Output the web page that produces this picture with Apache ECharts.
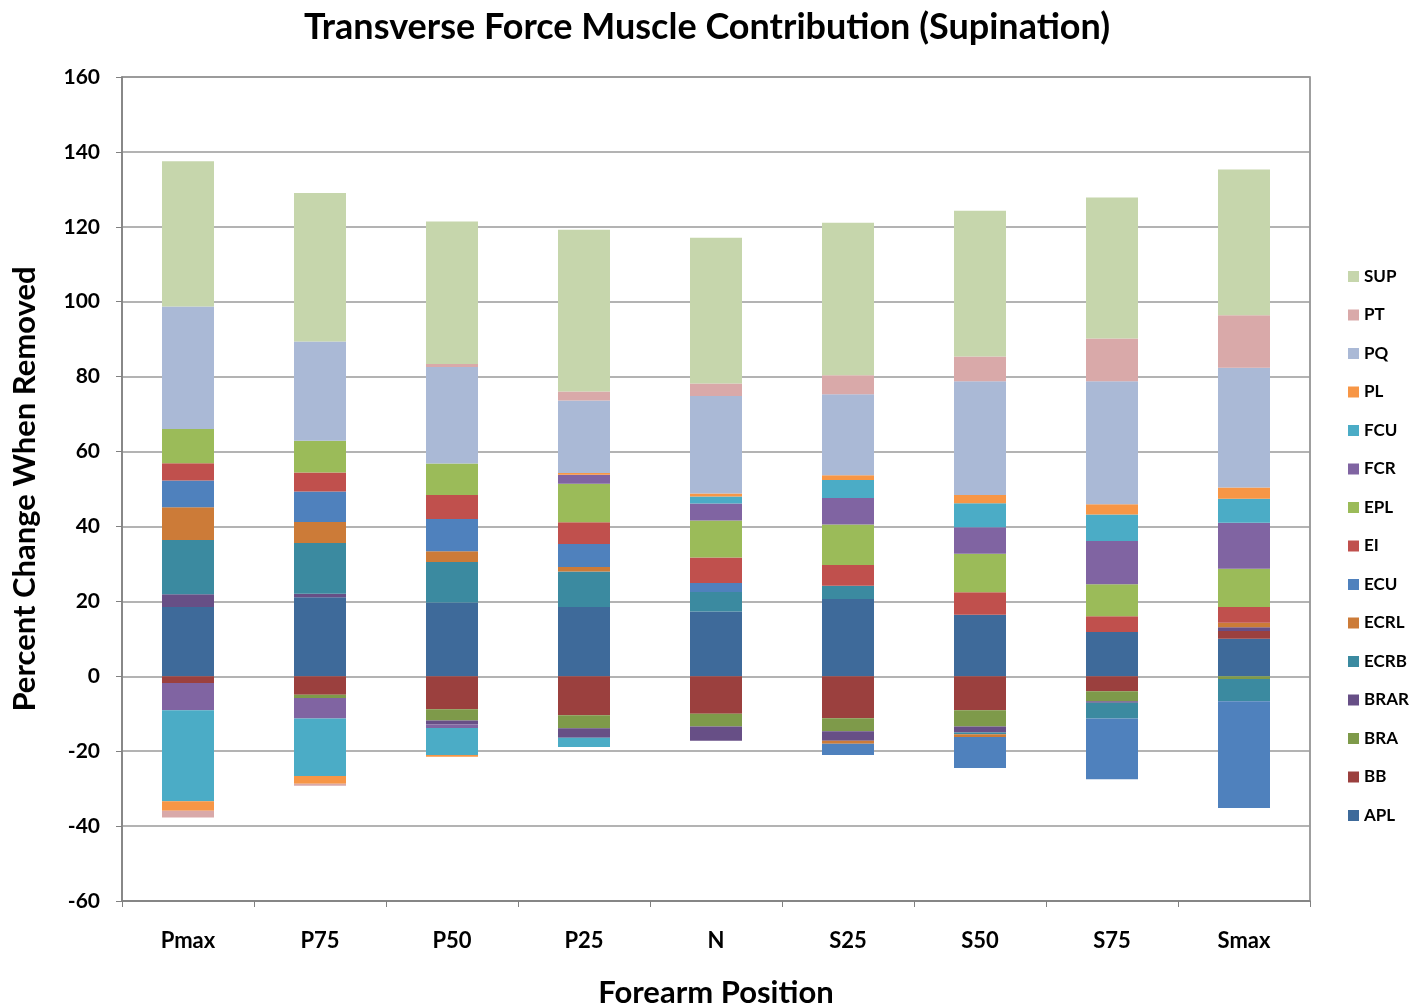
<!DOCTYPE html>
<html>
<head>
<meta charset="utf-8">
<script src="https://cdn.jsdelivr.net/npm/echarts@6/dist/echarts.min.js"></script>
<style>
  html, body { margin: 0; padding: 0; background: #fff; }
  #chart { width: 1414px; height: 1008px; }
</style>
</head>
<body>
<div id="chart"></div>
<script>
// forearm positions
const categories = ['Pmax', 'P75', 'P50', 'P25', 'N', 'S25', 'S50', 'S75', 'Smax']

// percent change when each muscle is removed
const APL = [18.5, 21.1, 19.7, 18.5, 17.3, 20.6, 16.4, 11.8, 10.0]
const BB = [-1.8, -4.9, -8.8, -10.4, -10.0, -11.2, -9.1, -4.0, 2.1]
const BRA = [0, -0.9, -3.0, -3.5, -3.4, -3.5, -4.3, -2.7, -0.7]
const BRAR = [3.4, 0.9, -1.1, -2.5, -3.8, -2.5, -1.6, -0.4, 1.0]
const ECRB = [14.5, 13.6, 10.8, 9.5, 5.2, 3.6, -0.5, -4.2, -6.0]
const ECRL = [8.7, 5.6, 2.9, 1.2, 0, -0.8, -0.7, 0, 1.2]
const ECU = [7.2, 8.1, 8.6, 6.1, 2.4, -3.0, -8.3, -16.2, -28.5]
const EI = [4.6, 5.1, 6.4, 5.8, 6.8, 5.5, 6.0, 4.2, 4.2]
const EPL = [9.1, 8.5, 8.4, 10.3, 9.9, 10.8, 10.3, 8.6, 10.2]
const FCR = [-7.3, -5.5, -0.9, 2.4, 4.5, 7.1, 7.1, 11.5, 12.3]
const FCU = [-24.3, -15.3, -7.2, -2.5, 1.9, 4.8, 6.4, 7.1, 6.4]
const PL = [-2.5, -2.1, -0.5, 0.5, 0.8, 1.3, 2.2, 2.7, 3.0]
const PQ = [32.7, 26.5, 25.8, 19.3, 26.0, 21.6, 30.4, 32.9, 32.0]
const PT = [-1.8, -0.5, 0.8, 2.4, 3.4, 5.1, 6.6, 11.4, 14.0]
const SUP = [38.8, 39.6, 38.0, 43.2, 38.9, 40.7, 38.9, 37.6, 38.9]

const muscleNames = ['APL', 'BB', 'BRA', 'BRAR', 'ECRB', 'ECRL', 'ECU', 'EI', 'EPL', 'FCR', 'FCU', 'PL', 'PQ', 'PT', 'SUP']
const muscleData = [APL, BB, BRA, BRAR, ECRB, ECRL, ECU, EI, EPL, FCR, FCU, PL, PQ, PT, SUP]
const colorList = ['#3E6A9A', '#9B403E', '#7E9A4A', '#674F86', '#3B8AA0', '#CC7B38', '#4F81BD',
  '#C0504D', '#9BBB59', '#8064A2', '#4BACC6', '#F79646', '#AAB9D6', '#D9A9A9', '#C6D6AC']

const fontFamily = 'Lato, "Open Sans", sans-serif'
const gridColor = '#9A9A9A'

const chart = echarts.init(document.getElementById('chart'))

const series = muscleNames.map((name, i) => ({
  name,
  type: 'bar',
  stack: 'total',
  barWidth: 52,
  data: muscleData[i],
  itemStyle: {
    color: colorList[i]
  }
}))

chart.setOption({
  animation: false,
  color: colorList,
  title: {
    text: 'Transverse Force Muscle Contribution (Supination)',
    left: 'center',
    top: 4,
    textStyle: {
      fontFamily,
      fontSize: 36,
      fontWeight: 'bold',
      color: '#000'
    }
  },
  legend: {
    orient: 'vertical',
    left: 1343,
    top: 263,
    itemWidth: 11,
    itemHeight: 11,
    itemGap: 21.5,
    icon: 'rect',
    data: muscleNames.slice().reverse(),
    textStyle: {
      fontFamily,
      fontSize: 17,
      fontWeight: 'bold',
      color: '#000'
    }
  },
  grid: {
    left: 122,
    right: 104,
    top: 77,
    bottom: 107,
    outerBoundsMode: 'none',
    show: true,
    borderColor: '#808080',
    borderWidth: 1.5
  },
  xAxis: {
    type: 'category',
    data: categories,
    name: 'Forearm Position',
    nameLocation: 'middle',
    nameGap: 76,
    nameTextStyle: {
      fontFamily,
      fontSize: 31,
      fontWeight: 'bold',
      color: '#000'
    },
    axisLine: {
      onZero: false,
      lineStyle: { color: '#808080', width: 1.5 }
    },
    axisTick: {
      show: true,
      length: 6,
      lineStyle: { color: '#808080' }
    },
    axisLabel: {
      margin: 29,
      fontFamily,
      fontSize: 22,
      fontWeight: 'bold',
      color: '#000'
    }
  },
  yAxis: {
    type: 'value',
    min: -60,
    max: 160,
    interval: 20,
    name: 'Percent Change When Removed',
    nameLocation: 'middle',
    nameGap: 82,
    nameTextStyle: {
      fontFamily,
      fontSize: 31,
      fontWeight: 'bold',
      color: '#000'
    },
    axisLine: {
      show: true,
      lineStyle: { color: '#808080', width: 1.5 }
    },
    axisTick: {
      show: true,
      length: 6,
      lineStyle: { color: '#808080' }
    },
    axisLabel: {
      margin: 22,
      fontFamily,
      fontSize: 21,
      fontWeight: 'bold',
      color: '#000'
    },
    splitLine: {
      lineStyle: { color: gridColor, width: 1.5 }
    }
  },
  series
})
</script>
</body>
</html>
